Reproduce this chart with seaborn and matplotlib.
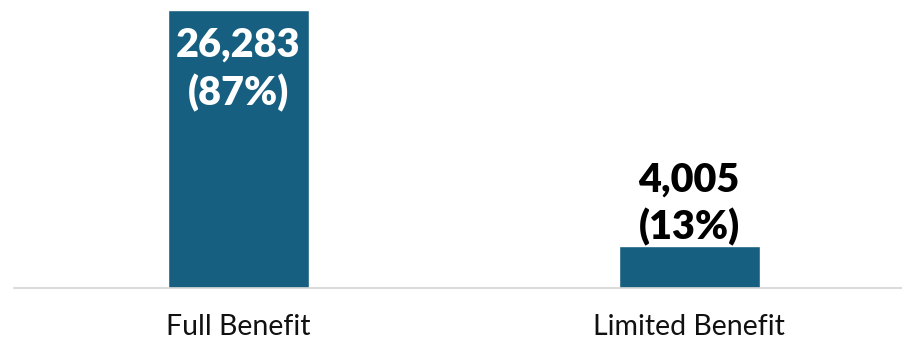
import matplotlib
matplotlib.use("Agg")
import matplotlib.pyplot as plt
import seaborn as sns
import pandas as pd

categories = ["Full Benefit", "Limited Benefit"]
counts = [26283, 4005]
shares = [87, 13]

BAR_COLOR = "#175f81"

sns.set_theme(style="white")
plt.rcParams["font.family"] = ["Lato", "DejaVu Sans"]

df = pd.DataFrame({"category": categories, "count": counts})

fig = plt.figure(figsize=(9.02, 3.39), dpi=100)
ax = fig.add_axes([14 / 902, 51 / 339, 888 / 902, 288 / 339])

sns.barplot(data=df, x="category", y="count", color=BAR_COLOR, width=0.313,
            saturation=1, ax=ax)

ax.set_ylim(0, max(counts) * 288 / 278)
ax.set_xlim(-0.497, 1.472)

for i, (c, s) in enumerate(zip(counts, shares)):
    inside = c > max(counts) * 0.5
    color = "white" if inside else "black"
    if inside:
        offsets = (-25.0, -60.0)
    else:
        offsets = (47.5, 13.5)
    for txt, off in zip([f"{c:,}", f"({s}%)"], offsets):
        ax.annotate(txt, xy=(i, c), xytext=(0, off), textcoords="offset points",
                    ha="center", va="center", fontsize=28.5, fontweight="heavy",
                    color=color)

ax.set_xlabel("")
ax.set_ylabel("")
ax.set_yticks([])
ax.tick_params(axis="x", length=0, pad=19, labelsize=20.5)
for lbl in ax.get_xticklabels():
    lbl.set_color("#111111")

for side in ["top", "right", "left"]:
    ax.spines[side].set_visible(False)
ax.spines["bottom"].set_color("#d4d4d4")
ax.spines["bottom"].set_linewidth(1.2)

fig.savefig("out.png", dpi=100)
